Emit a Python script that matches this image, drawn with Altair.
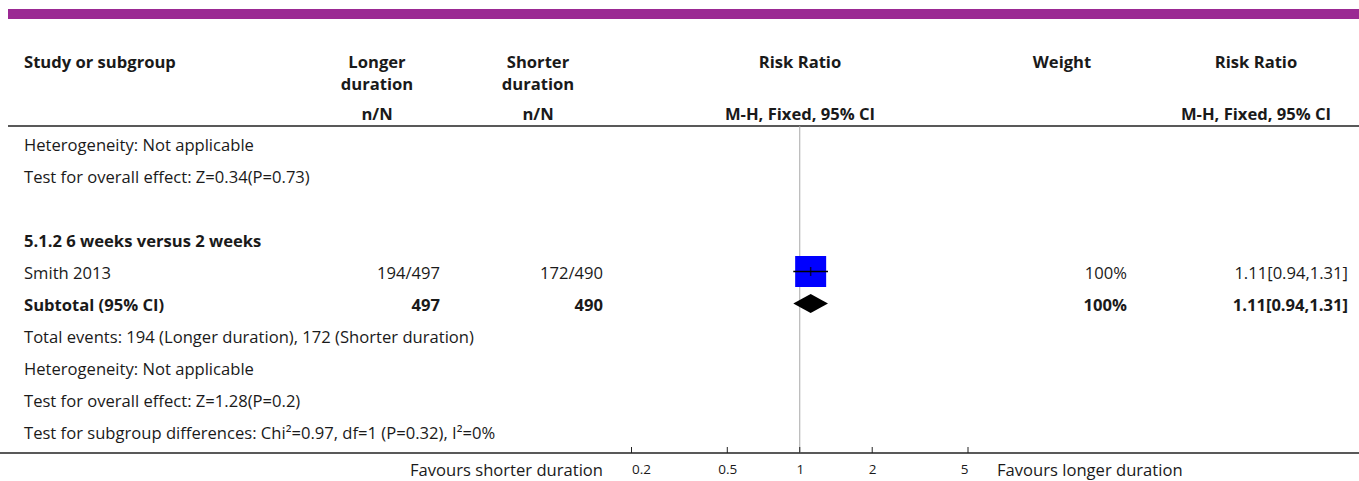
import altair as alt
import pandas as pd

# ---------------- data ----------------
row_labels = [
    "Heterogeneity: Not applicable",
    "Test for overall effect: Z=0.34(P=0.73)",
    "",
    "5.1.2 6 weeks versus 2 weeks",
    "Smith 2013",
    "Subtotal (95% CI)",
    "Total events: 194 (Longer duration), 172 (Shorter duration)",
    "Heterogeneity: Not applicable",
    "Test for overall effect: Z=1.28(P=0.2)",
    "Test for subgroup differences: Chi\u00b2=0.97, df=1 (P=0.32), I\u00b2=0%",
]
row_bold = [False, False, False, True, False, True, False, False, False, False]

studies = ["Smith 2013"]
events_longer = [194]
total_longer = [497]
events_shorter = [172]
total_shorter = [490]
study_rr = [1.11]
study_lo = [0.94]
study_hi = [1.31]
study_weight = [100]

subtotal_label = "Subtotal (95% CI)"
subtotal_n_longer = 497
subtotal_n_shorter = 490
subtotal_rr = 1.11
subtotal_lo = 0.94
subtotal_hi = 1.31
subtotal_weight = 100

axis_values = [0.2, 0.5, 1, 2, 5]
null_effect = [1]
favours_left = "Favours shorter duration"
favours_right = "Favours longer duration"

header_line1 = ["Study or subgroup", "Longer", "Shorter", "Risk Ratio", "Weight", "Risk Ratio"]
header_line2 = ["duration", "duration"]
header_line3 = ["n/N", "n/N", "M-H, Fixed, 95% CI", "M-H, Fixed, 95% CI"]

# ---------------- style / layout ----------------
FONT = "Open Sans"
FS = 16.6
INK = "#1a1a1a"
W, H, BOTTOM = 1359, 453, 28

# column anchors (px)
X_STUDY = 24
X_LONG_R, X_SHORT_R = 440, 603
X_LONG_C, X_SHORT_C = 377, 538
X_PLOT_C = 800
X_WEIGHT_R, X_WEIGHT_C = 1127, 1062
X_RR_R, X_RR_C = 1348, 1256
PLOT_RANGE = [631.5, 968]

# row centres: first row at 143.5 px, 32 px per row
YSCALE = alt.Scale(domain=[0, 9], range=[143.5, 143.5 + 32 * 9], nice=False, zero=False)
XSCALE = alt.Scale(type="log", domain=[0.2, 5], range=PLOT_RANGE, nice=False)
X_AXIS = alt.Axis(values=axis_values, format="~g", labelFlush=True, ticks=False,
                  domain=False, grid=False, title=None, labelFont=FONT,
                  labelFontSize=13.5, labelColor=INK, labelPadding=9)


def X(field, **kw):
    return alt.X(field, type="quantitative", scale=XSCALE, axis=X_AXIS, **kw)


def Y(field):
    return alt.Y(field, type="quantitative", scale=YSCALE, axis=None)


one = alt.Data(values=[{}])


def label(text, x, y, align="left", bold=False, size=FS):
    return alt.Chart(one).mark_text(
        align=align, baseline="alphabetic", font=FONT, fontSize=size,
        fontWeight="bold" if bold else "normal", color=INK,
    ).encode(x=alt.value(x), y=alt.value(y), text=alt.value(text))


# ---------------- tables ----------------
rows_df = pd.DataFrame({"row": range(len(row_labels)), "label": row_labels, "bold": row_bold})
rows_df = rows_df[rows_df["label"] != ""]

study_rows = [row_labels.index(s) for s in studies]
sub_row = row_labels.index(subtotal_label)

values_df = pd.DataFrame({
    "row": study_rows + [sub_row],
    "longer": [f"{e}/{n}" for e, n in zip(events_longer, total_longer)] + [str(subtotal_n_longer)],
    "shorter": [f"{e}/{n}" for e, n in zip(events_shorter, total_shorter)] + [str(subtotal_n_shorter)],
    "weight": [f"{w}%" for w in study_weight] + [f"{subtotal_weight}%"],
    "ci": [f"{r:.2f}[{l:.2f},{h:.2f}]" for r, l, h in zip(study_rr, study_lo, study_hi)]
          + [f"{subtotal_rr:.2f}[{subtotal_lo:.2f},{subtotal_hi:.2f}]"],
    "bold": [False] * len(studies) + [True],
})


def column(df, field, x, align, bold):
    sub = df[df["bold"] == bold]
    return alt.Chart(sub).mark_text(
        align=align, baseline="alphabetic", dy=7.5, font=FONT, fontSize=FS,
        fontWeight="bold" if bold else "normal", color=INK,
    ).encode(x=alt.value(x), y=Y("row"), text=alt.Text(f"{field}:N"))


layers = []

# purple banner and rules
layers.append(alt.Chart(one).mark_rect(color="#9b2993").encode(
    x=alt.value(8), x2=alt.value(W), y=alt.value(9), y2=alt.value(19)))
layers.append(alt.Chart(one).mark_rule(color="#222", strokeWidth=1.5).encode(
    x=alt.value(8), x2=alt.value(W), y=alt.value(126)))
layers.append(alt.Chart(one).mark_rule(color="#222", strokeWidth=1.5).encode(
    x=alt.value(0), x2=alt.value(W), y=alt.value(H)))

# headers
layers += [
    label(header_line1[0], X_STUDY, 68, "left", True),
    label(header_line1[1], X_LONG_C, 68, "center", True),
    label(header_line1[2], X_SHORT_C, 68, "center", True),
    label(header_line1[3], X_PLOT_C, 68, "center", True),
    label(header_line1[4], X_WEIGHT_C, 68, "center", True),
    label(header_line1[5], X_RR_C, 68, "center", True),
    label(header_line2[0], X_LONG_C, 90, "center", True),
    label(header_line2[1], X_SHORT_C, 90, "center", True),
    label(header_line3[0], X_LONG_C, 120, "center", True),
    label(header_line3[1], X_SHORT_C, 120, "center", True),
    label(header_line3[2], X_PLOT_C, 120, "center", True),
    label(header_line3[3], X_RR_C, 120, "center", True),
]

# left column and value columns
for b in (False, True):
    layers.append(column(rows_df, "label", X_STUDY, "left", b))
    layers.append(column(values_df, "longer", X_LONG_R, "right", b))
    layers.append(column(values_df, "shorter", X_SHORT_R, "right", b))
    layers.append(column(values_df, "weight", X_WEIGHT_R, "right", b))
    layers.append(column(values_df, "ci", X_RR_R, "right", b))

# forest plot
null_df = pd.DataFrame({"x": null_effect})
layers.append(alt.Chart(null_df).mark_rule(color="#a8a8a8", strokeWidth=1).encode(
    x=X("x"), y=alt.value(126), y2=alt.value(H)))

ticks_df = pd.DataFrame({"t": axis_values})
layers.append(alt.Chart(ticks_df).mark_rule(color="#222", strokeWidth=1).encode(
    x=X("t"), y=alt.value(H - 6), y2=alt.value(H)))

study_df = pd.DataFrame({"row": study_rows, "rr": study_rr, "lo": study_lo,
                         "hi": study_hi, "w": study_weight})
layers.append(alt.Chart(study_df).mark_square(color="#0000ff", opacity=1, size=961).encode(
    x=X("rr"), y=Y("row")))
layers.append(alt.Chart(study_df).mark_rule(color="black", strokeWidth=1.5).encode(
    x=X("lo"), x2="hi", y=Y("row")))
layers.append(alt.Chart(study_df).mark_tick(color="black", orient="vertical", size=9,
                                            thickness=1.5).encode(x=X("rr"), y=Y("row")))

half = 9.5 / 32  # diamond half-height in row units
diamond_df = pd.DataFrame({
    "x": [subtotal_lo, subtotal_rr, subtotal_hi],
    "y": [sub_row, sub_row - half, sub_row],
    "y2": [sub_row, sub_row + half, sub_row],
})
layers.append(alt.Chart(diamond_df).mark_area(color="black", opacity=1).encode(
    x=X("x"), y=Y("y"), y2="y2"))

# favours captions
layers.append(label(favours_left, X_SHORT_R, 476, "right"))
layers.append(label(favours_right, 997, 476, "left"))

chart = alt.layer(*layers).properties(
    width=W, height=H, autosize="none",
    padding={"left": 0, "top": 0, "right": 0, "bottom": BOTTOM},
    background="white",
).configure_view(strokeWidth=0)

chart.save("out.html", embed_options={"renderer": "svg", "actions": False})
